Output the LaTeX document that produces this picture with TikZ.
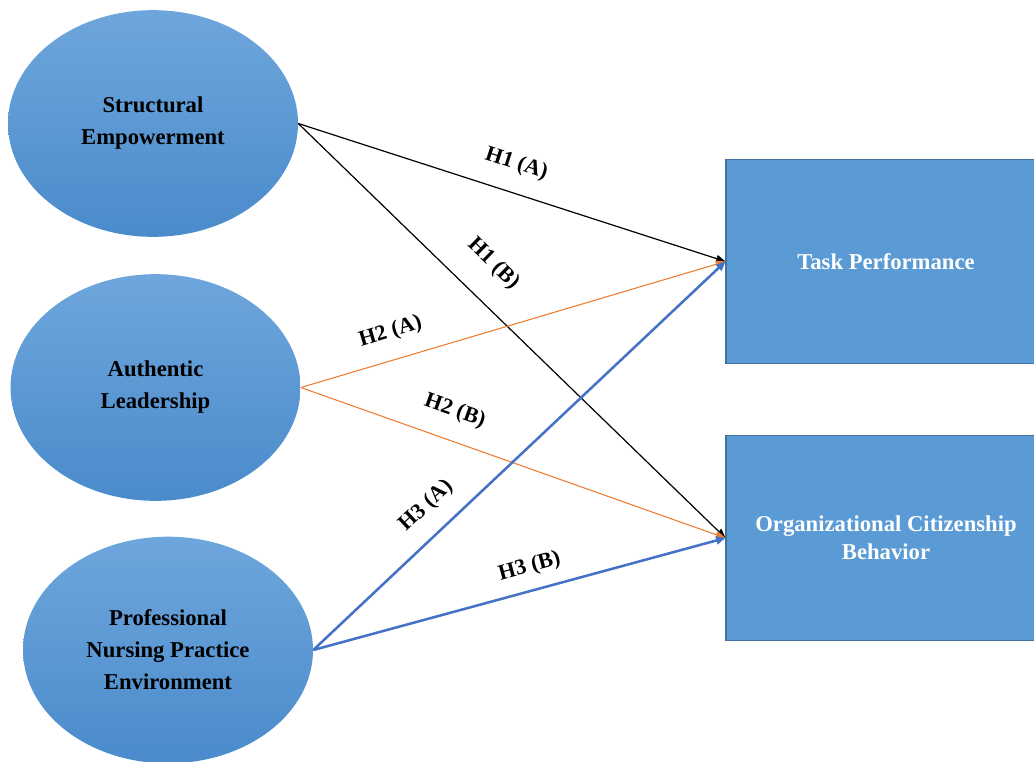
\documentclass[tikz,border=0pt]{standalone}
\usepackage{fontspec}
\setmainfont{Liberation Serif}
\usetikzlibrary{
    arrows.meta,
    shapes.geometric
}

\definecolor{ovaltop}{RGB}{110,166,220}
\definecolor{ovalbot}{RGB}{74,139,203}
\definecolor{boxfill}{RGB}{91,155,213}
\definecolor{boxline}{RGB}{65,113,156}
\definecolor{hypor}{RGB}{237,125,49}
\definecolor{hypbl}{RGB}{68,114,196}

\begin{document}
\begin{tikzpicture}[x=0.75pt, y=-0.75pt,
    oval/.style={ellipse, draw=none, inner sep=0pt, align=center,
        minimum width=217.5pt, minimum height=170pt,
        top color=ovaltop, bottom color=ovalbot,
        font=\fontsize{17}{24}\selectfont\bfseries},
    outcome/.style={rectangle, draw=boxline, line width=0.8pt, fill=boxfill,
        minimum width=240pt, minimum height=153.5pt, align=center,
        text=white, font=\fontsize{17}{21}\selectfont\bfseries},
    hyp/.style={sloped, inner sep=0pt, font=\fontsize{16.5}{18}\selectfont\bfseries},
    blk/.style={draw=black, line width=0.9pt, -{Triangle[length=7pt,width=5.5pt]}},
    org/.style={draw=hypor, line width=0.8pt, -{Triangle[length=7pt,width=5.5pt]}},
    blu/.style={draw=hypbl, line width=1.9pt, -{Triangle[length=7pt,width=6pt]}}
]
\useasboundingbox (0,0) rectangle (1034,761);

% Predictors
\node[oval] (se) at (153,123.5) {Structural\\Empowerment};
\node[oval] (al) at (155.5,387.5) {Authentic\\Leadership};
\node[oval] (pnpe) at (168,650) {Professional\\Nursing Practice\\Environment};

% Outcomes
\node[outcome] (tp) at (886,261.5) {Task Performance};
\node[outcome] (ocb) at (886,538) {Organizational Citizenship\\Behavior};

% Hypotheses
\draw[blk] (se.east) -- node[hyp, pos=0.49, above=13.5pt] {H1 (A)} (tp.west);
\draw[blk] (se.east) -- node[hyp, pos=0.40, above=18.4pt] {H1 (B)} (ocb.west);
\draw[org] (al.east) -- node[hyp, pos=0.23, above=13pt] {H2 (A)} (tp.west);
\draw[org] (al.east) -- node[hyp, pos=0.34, above=14pt] {H2 (B)} (ocb.west);
\draw[blu] (pnpe.east) -- node[hyp, pos=0.32, above=11.8pt] {H3 (A)} (tp.west);
\draw[blu] (pnpe.east) -- node[hyp, pos=0.54, above=9.2pt] {H3 (B)} (ocb.west);

\end{tikzpicture}
\end{document}
